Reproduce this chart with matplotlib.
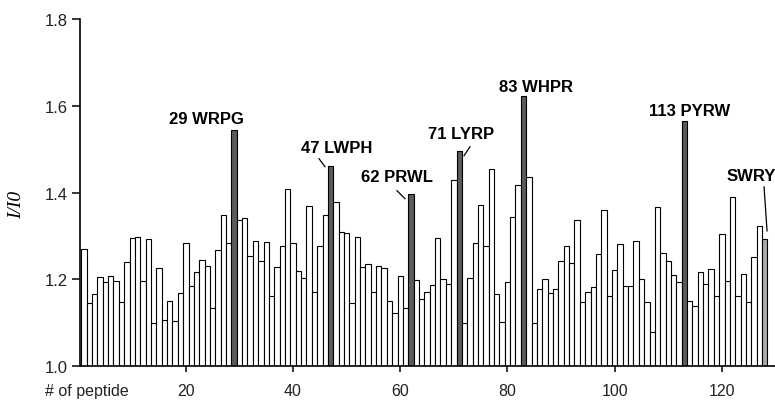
import matplotlib
matplotlib.use('Agg')
import matplotlib.pyplot as plt
import numpy as np

# I/I0 for peptides 1..128
peptide = list(range(1, 129))
ratio = [
    1.270, 1.146, 1.166, 1.206, 1.195, 1.209, 1.197, 1.148, 1.240, 1.295,
    1.297, 1.197, 1.294, 1.100, 1.226, 1.106, 1.151, 1.105, 1.168, 1.284,
    1.186, 1.217, 1.245, 1.231, 1.134, 1.269, 1.348, 1.284, 1.545, 1.337,
    1.342, 1.255, 1.289, 1.242, 1.286, 1.161, 1.229, 1.278, 1.409, 1.284,
    1.220, 1.203, 1.369, 1.171, 1.277, 1.349, 1.461, 1.378, 1.309, 1.307,
    1.145, 1.298, 1.228, 1.235, 1.171, 1.230, 1.227, 1.151, 1.122, 1.209,
    1.135, 1.398, 1.198, 1.154, 1.171, 1.188, 1.296, 1.201, 1.190, 1.428,
    1.497, 1.100, 1.203, 1.283, 1.371, 1.278, 1.454, 1.166, 1.103, 1.195,
    1.343, 1.417, 1.622, 1.437, 1.100, 1.177, 1.201, 1.168, 1.177, 1.243,
    1.278, 1.237, 1.337, 1.148, 1.172, 1.182, 1.259, 1.360, 1.161, 1.222,
    1.281, 1.186, 1.186, 1.289, 1.200, 1.148, 1.078, 1.368, 1.260, 1.243,
    1.211, 1.194, 1.566, 1.150, 1.140, 1.217, 1.190, 1.225, 1.161, 1.304,
    1.197, 1.390, 1.161, 1.213, 1.148, 1.251, 1.323, 1.294,
]

# highlighted peptides and their labels
hit_ids = [29, 47, 62, 71, 83, 113]
hit_labels = ['29 WRPG', '47 LWPH', '62 PRWL', '71 LYRP', '83 WHPR', '113 PYRW']
last_id = 128
last_label = 'SWRY'

xticks = [20, 40, 60, 80, 100, 120]
yticks = [1.0, 1.2, 1.4, 1.6, 1.8]

colors = []
for p in peptide:
    if p in hit_ids:
        colors.append('#5c5c5c')
    elif p == last_id:
        colors.append('#a8a8a8')
    else:
        colors.append('white')

fig = plt.figure(figsize=(7.75, 4.02), dpi=100)
ax = fig.add_axes([0.1032, 0.0863, 0.8974, 0.8640])

ax.bar(peptide, np.array(ratio) - 1.0, bottom=1.0, width=1.0,
       color=colors, edgecolor='black', linewidth=0.8)

ax.set_xlim(0.25, 130)
ax.set_ylim(1.0, 1.8)
ax.set_xticks(xticks)
ax.set_yticks(yticks)
ax.set_yticklabels(['%.1f' % t for t in yticks])
ax.spines['top'].set_visible(False)
ax.spines['right'].set_visible(False)
ax.spines['left'].set_linewidth(1.2)
ax.spines['bottom'].set_linewidth(1.2)
ax.tick_params(axis='y', direction='out', length=6, width=1.1, pad=3,
               labelsize=12, labelcolor='#222222')
ax.tick_params(axis='x', direction='out', length=4, width=1.1, pad=8,
               labelsize=11.5, labelcolor='#222222')
for lab in ax.get_xticklabels() + ax.get_yticklabels():
    lab.set_family('Liberation Sans')

fig.text(45 / 775, 1 - 392 / 402, '# of peptide', ha='left', va='center',
         fontsize=11.5, family='Liberation Sans', color='#222222')
fig.text(17 / 775, 1 - 205 / 402, 'I/I0', rotation=90, ha='center', va='center',
         fontsize=14, family='Liberation Serif', style='italic')

# label offsets from bar tops, in pixels (x right, y up)
text_off = {29: (-28, 11.5), 47: (6, 18.5), 62: (-14, 17), 71: (2, 17),
            83: (12.5, 10), 113: (5, 10.5)}
for pid, lab in zip(hit_ids, hit_labels):
    ax.annotate(lab, xy=(pid, ratio[pid - 1]), xytext=text_off[pid],
                textcoords='offset pixels', ha='center', va='center',
                fontsize=12, fontweight='bold', family='Liberation Sans')
ax.annotate(last_label, xy=(last_id, ratio[last_id - 1]), xytext=(-38, 63),
            textcoords='offset pixels', ha='left', va='center',
            fontsize=12, fontweight='bold', family='Liberation Sans',
            annotation_clip=False)

# short leader lines, pixel offsets from bar tops
leaders = {47: ((-11.6, 7.5), (-5.6, -0.5)),
           62: ((-14, 2.8), (-6, -5.2)),
           71: ((4.8, -5.2), (10.8, 3.8)),
           128: ((-0.7, 51.8), (2.3, 7.8))}
inv = ax.transData.inverted()
for pid, (a, b) in leaders.items():
    px, py = ax.transData.transform((pid, ratio[pid - 1]))
    p0 = inv.transform((px + a[0], py + a[1]))
    p1 = inv.transform((px + b[0], py + b[1]))
    ax.plot([p0[0], p1[0]], [p0[1], p1[1]], color='black', linewidth=0.9,
            clip_on=False)

plt.savefig('out.png', dpi=100)
